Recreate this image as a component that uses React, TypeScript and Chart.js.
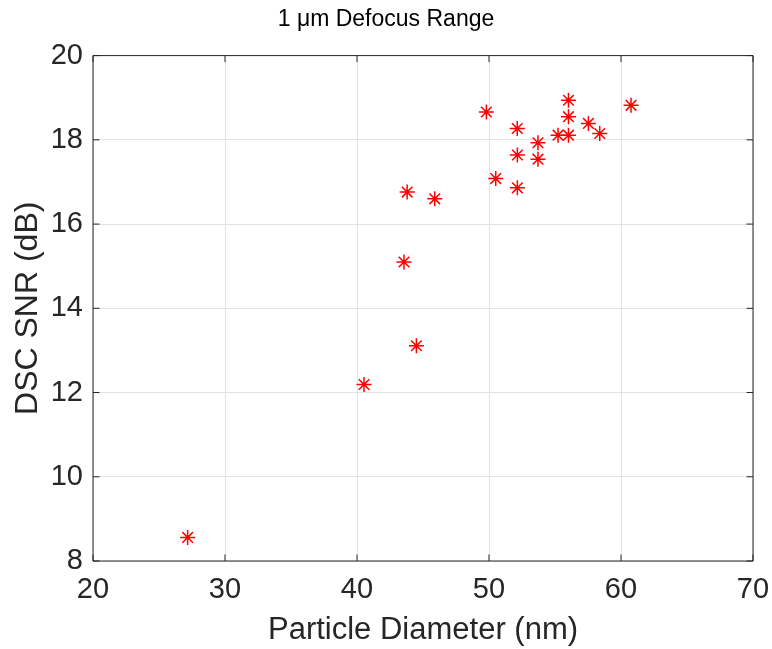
import React, { useEffect, useRef } from "react";
import { Chart, registerables } from "chart.js";

Chart.register(...registerables);

const diameters = [27.17, 40.53, 43.56, 44.5, 43.8, 45.89, 49.8, 50.51, 52.14, 52.15, 52.15, 53.71, 53.71, 55.23, 56.02, 56.02, 56.02, 57.53, 58.39, 60.76];
const snrValues = [8.56, 12.19, 15.1, 13.11, 16.76, 16.6, 18.66, 17.08, 18.27, 17.64, 16.86, 17.93, 17.54, 18.11, 18.94, 18.55, 18.11, 18.39, 18.15, 18.82];
const xTicks = [20, 30, 40, 50, 60, 70];
const yTicks = [8, 10, 12, 14, 16, 18, 20];
const titleText = "1 μm Defocus Range";
const xLabel = "Particle Diameter (nm)";
const yLabel = "DSC SNR (dB)";

const FONT = "'Liberation Sans', Arial, Helvetica, sans-serif";
const AXIS_COLOR = "#262626";

const boxPlugin = {
  id: "matlabBox",
  afterDatasetsDraw(chart: any) {
    const { ctx, chartArea } = chart;
    const { left, right, top, bottom } = chartArea;
    const xs = chart.scales.x;
    const ys = chart.scales.y;
    const tl = 6.5;
    ctx.save();
    ctx.strokeStyle = AXIS_COLOR;
    ctx.lineWidth = 1;
    ctx.beginPath();
    ctx.rect(left, top, right - left, bottom - top);
    ctx.stroke();
    ctx.beginPath();
    xTicks.forEach((v) => {
      const px = xs.getPixelForValue(v);
      ctx.moveTo(px, bottom);
      ctx.lineTo(px, bottom - tl);
      ctx.moveTo(px, top);
      ctx.lineTo(px, top + tl);
    });
    yTicks.forEach((v) => {
      const py = ys.getPixelForValue(v);
      ctx.moveTo(left, py);
      ctx.lineTo(left + tl, py);
      ctx.moveTo(right, py);
      ctx.lineTo(right - tl, py);
    });
    ctx.stroke();
    ctx.restore();
  },
};

export default function App() {
  const ref = useRef<HTMLCanvasElement | null>(null);

  useEffect(() => {
    document.body.style.margin = "0";
    const canvas = ref.current;
    if (!canvas) return;
    const points = diameters.map((x, i) => ({ x, y: snrValues[i] }));
    const chart = new Chart(canvas, {
      type: "scatter",
      data: {
        datasets: [
          {
            data: points,
            pointStyle: "star",
            pointRadius: 7.5,
            pointBorderWidth: 1.5,
            borderColor: "#ff0000",
            backgroundColor: "#ff0000",
            pointBorderColor: "#ff0000",
          },
        ],
      },
      options: {
        animation: false,
        responsive: false,
        devicePixelRatio: 1,
        layout: { padding: { left: 0, right: 0, top: 0, bottom: 0 } },
        plugins: {
          legend: { display: false },
          tooltip: { enabled: false },
          title: {
            display: true,
            text: titleText,
            color: "#000000",
            font: { family: FONT, size: 23, weight: "normal" },
            padding: { top: 6, bottom: 22 },
          },
        },
        scales: {
          x: {
            type: "linear",
            min: 20,
            max: 70,
            afterBuildTicks: (scale: any) => {
              scale.ticks = xTicks.map((v) => ({ value: v }));
            },
            afterFit: (scale: any) => {
              scale.height = 88;
              scale.paddingLeft = 0;
              scale.paddingRight = 19;
            },
            grid: { color: "#e3e3e3", drawTicks: false },
            border: { display: false },
            ticks: {
              color: AXIS_COLOR,
              font: { family: FONT, size: 29 },
              padding: 12,
              maxRotation: 0,
            },
            title: {
              display: true,
              text: xLabel,
              color: AXIS_COLOR,
              font: { family: FONT, size: 31 },
              padding: { top: 3, bottom: 0 },
            },
          },
          y: {
            type: "linear",
            min: 8,
            max: 20,
            afterBuildTicks: (scale: any) => {
              scale.ticks = yTicks.map((v) => ({ value: v }));
            },
            afterFit: (scale: any) => {
              scale.width = 93;
              scale.paddingTop = 0;
              scale.paddingBottom = 0;
            },
            grid: { color: "#e3e3e3", drawTicks: false },
            border: { display: false },
            ticks: {
              color: AXIS_COLOR,
              font: { family: FONT, size: 29 },
              padding: 10,
            },
            title: {
              display: true,
              text: yLabel,
              color: AXIS_COLOR,
              font: { family: FONT, size: 32 },
              padding: { top: 9, bottom: 0 },
            },
          },
        },
      },
      plugins: [boxPlugin],
    } as any);
    return () => chart.destroy();
  }, []);

  return (
    <div style={{ position: "absolute", left: 0, top: 0, width: 772, height: 649, background: "#fff" }}>
      <canvas ref={ref} width={772} height={649} />
    </div>
  );
}
